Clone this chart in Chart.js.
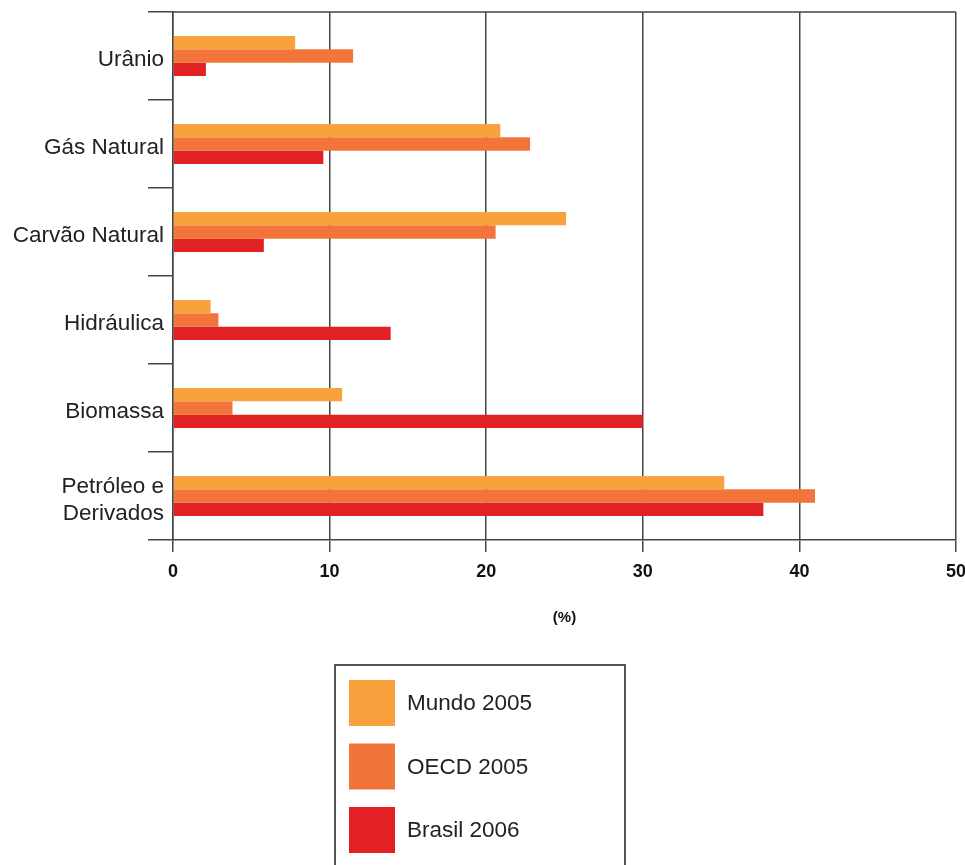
<!DOCTYPE html>
<html>
<head>
<meta charset="utf-8">
<script src="https://cdn.jsdelivr.net/npm/chart.js@4"></script>
<style>
  html, body { margin: 0; padding: 0; background: #fff; }
  #wrap { width: 965px; height: 865px; position: relative; }
</style>
</head>
<body>
<div id="wrap"><canvas id="c" width="965" height="865"></canvas></div>
<script>
// Energy sources (rows, top to bottom)
const categories = ['Urânio', 'Gás Natural', 'Carvão Natural', 'Hidráulica', 'Biomassa', ['Petróleo e', 'Derivados']];
// Share of total energy supply, %
const mundo2005  = [7.8, 20.9, 25.1, 2.4, 10.8, 35.2];
const oecd2005   = [11.5, 22.8, 20.6, 2.9, 3.8, 41.0];
const brasil2006 = [2.1, 9.6, 5.8, 13.9, 30.0, 37.7];
const seriesNames = ['Mundo 2005', 'OECD 2005', 'Brasil 2006'];
const xTicks = [0, 10, 20, 30, 40, 50];

const COLORS = ['#F9A13C', '#F1753A', '#E22124'];
const LINE = '#444';
const SANS = '"Liberation Sans", Arial, Helvetica, sans-serif';

// Frame line along the top of the plot area
const topFrame = {
  id: 'topFrame',
  afterDraw(chart) {
    const { ctx, chartArea } = chart;
    ctx.save();
    ctx.strokeStyle = LINE;
    ctx.lineWidth = 1.5;
    ctx.beginPath();
    ctx.moveTo(chartArea.left, chartArea.top);
    ctx.lineTo(chartArea.right, chartArea.top);
    ctx.stroke();
    ctx.restore();
  }
};

// Boxed legend with large square swatches, stacked vertically
const boxLegend = {
  id: 'boxLegend',
  afterDraw(chart) {
    const { ctx } = chart;
    const bx = 335, by = 665, bw = 290, bh = 220;
    ctx.save();
    ctx.strokeStyle = '#555';
    ctx.lineWidth = 2;
    ctx.strokeRect(bx, by, bw, bh);
    ctx.font = '22.5px ' + SANS;
    ctx.textBaseline = 'middle';
    ctx.textAlign = 'left';
    chart.data.datasets.forEach((ds, i) => {
      const sy = by + 15 + i * 63.5;
      ctx.fillStyle = ds.backgroundColor;
      ctx.fillRect(bx + 14, sy, 46, 46);
      ctx.fillStyle = '#222';
      ctx.fillText(ds.label, bx + 72, sy + 24);
    });
    ctx.restore();
  }
};

new Chart(document.getElementById('c'), {
  type: 'bar',
  data: {
    labels: categories,
    datasets: [
      { label: seriesNames[0], data: mundo2005,  backgroundColor: COLORS[0] },
      { label: seriesNames[1], data: oecd2005,   backgroundColor: COLORS[1] },
      { label: seriesNames[2], data: brasil2006, backgroundColor: COLORS[2] }
    ]
  },
  options: {
    indexAxis: 'y',
    responsive: false,
    animation: false,
    events: [],
    layout: { padding: { top: 12, right: 9, bottom: 225, left: 0 } },
    datasets: { bar: { categoryPercentage: 0.455, barPercentage: 1.0, borderWidth: 0 } },
    plugins: { legend: { display: false }, tooltip: { enabled: false } },
    scales: {
      x: {
        min: 0, max: 50,
        afterBuildTicks(scale) { scale.ticks = xTicks.map(v => ({ value: v })); },
        afterFit(scale) { scale.height = 100; scale.paddingLeft = 0; scale.paddingRight = 0; },
        grid: { color: LINE, lineWidth: 1.5, tickLength: 12, drawOnChartArea: true },
        border: { display: true, color: LINE, width: 1.5 },
        ticks: {
          color: '#111', padding: 9, maxRotation: 0,
          font: { family: SANS, size: 18, weight: 'bold' }
        },
        title: {
          display: true, text: '(%)', color: '#111',
          font: { family: SANS, size: 15, weight: 'bold' },
          padding: { top: 10, bottom: 13 }
        }
      },
      y: {
        afterFit(scale) { scale.width = 173; },
        grid: { color: LINE, lineWidth: 1.5, tickLength: 25, drawOnChartArea: false, offset: true },
        border: { display: true, color: LINE, width: 1.5 },
        ticks: {
          color: '#222', padding: -16, autoSkip: false, labelOffset: 4,
          font: { family: SANS, size: 22.5, lineHeight: 1.2 }
        }
      }
    }
  },
  plugins: [topFrame, boxLegend]
});
</script>
</body>
</html>
